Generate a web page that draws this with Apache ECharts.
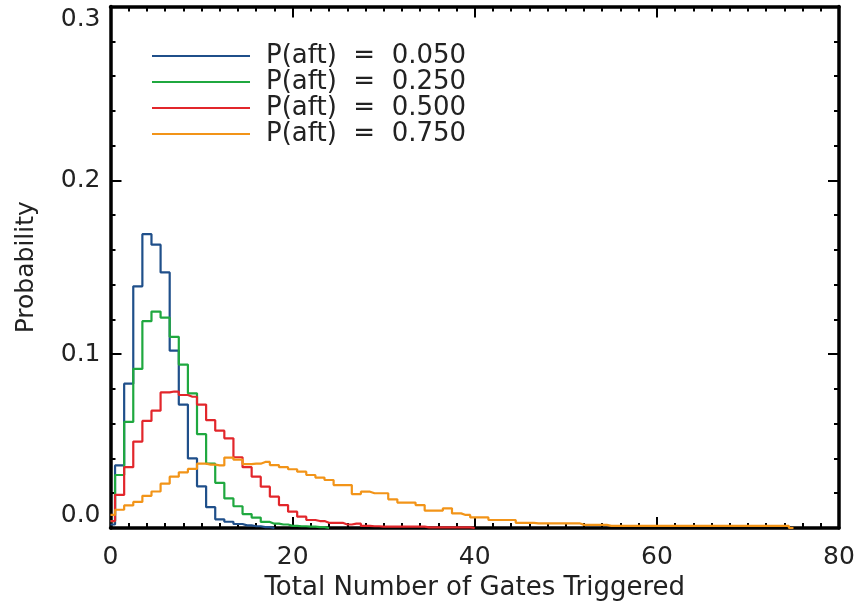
<!DOCTYPE html>
<html>
<head>
<meta charset="utf-8">
<script src="https://cdn.jsdelivr.net/npm/echarts@6/dist/echarts.min.js"></script>
<style>
  html, body { margin: 0; padding: 0; background: #fff; }
  #chart { width: 858px; height: 612px; }
</style>
</head>
<body>
<div id="chart"></div>
<script>
// Histogram probabilities per bin (bin n centred on n gates), one array per P(aft)
const seriesNames = ['P(aft)  =  0.050', 'P(aft)  =  0.250', 'P(aft)  =  0.500', 'P(aft)  =  0.750'];
const seriesColors = ['#1f4f8a', '#1fa83f', '#e2262b', '#f29418'];

const probAft050 = [0.002, 0.036, 0.083, 0.139, 0.169, 0.163, 0.147, 0.102, 0.071, 0.040,
  0.024, 0.012, 0.005, 0.0036, 0.0023, 0.0015, 0.001, 0.0005, 0];

const probAft250 = [0.004, 0.0305, 0.061, 0.0915, 0.119, 0.1245, 0.121, 0.110, 0.094, 0.0775,
  0.054, 0.037, 0.026, 0.017, 0.0125, 0.008, 0.006, 0.0035, 0.0025, 0.002,
  0.0012, 0.001, 0.0008, 0.0005, 0];

const probAft500 = [0.004, 0.019, 0.035, 0.0497, 0.0616, 0.0675, 0.078, 0.0785, 0.0765, 0.0755,
  0.071, 0.062, 0.056, 0.0516, 0.0407, 0.035, 0.0295, 0.0238, 0.018, 0.0132,
  0.0094, 0.0065, 0.0046, 0.004, 0.003, 0.003, 0.002, 0.0025, 0.0012, 0.001,
  0.0008, 0.0008, 0.0008, 0.0008, 0.0008, 0.0004, 0.0004, 0.0004, 0.0004, 0.0004, 0];

const probAft750 = [0.0075, 0.0105, 0.013, 0.015, 0.0185, 0.021, 0.0255, 0.0295, 0.032, 0.034,
  0.037, 0.0365, 0.036, 0.0405, 0.0393, 0.0368, 0.037, 0.038, 0.0362, 0.035,
  0.0338, 0.0324, 0.0305, 0.029, 0.0276, 0.0247, 0.0247, 0.0195, 0.0209, 0.020,
  0.020, 0.0165, 0.0146, 0.0146, 0.0132, 0.010, 0.010, 0.0113, 0.0084, 0.0075,
  0.0061, 0.0061, 0.0046, 0.0046, 0.0046, 0.003, 0.003, 0.0027, 0.0027, 0.0027,
  0.0027, 0.0027, 0.0018, 0.0018, 0.0018, 0.0012, 0.0012, 0.0012, 0.0012, 0.0012,
  0.0012, 0.0012, 0.0012, 0.0012, 0.0012, 0.0012, 0.0012, 0.0012, 0.0012, 0.0012,
  0.0012, 0.0012, 0.0012, 0.0012, 0.0012, 0];

const allProbs = [probAft050, probAft250, probAft500, probAft750];

const xTitle = 'Total Number of Gates Triggered';
const yTitle = 'Probability';

const FONT = 'DejaVu Sans';
const INK = '#222';

function framedAxis(extra, minorSplits) {
  return Object.assign({
    type: 'value',
    axisLine: { show: true, onZero: false, lineStyle: { color: '#000', width: 3.5 } },
    axisTick: { show: true, inside: true, length: 11, lineStyle: { color: '#000', width: 2 } },
    minorTick: { show: true, splitNumber: minorSplits, length: 5, lineStyle: { color: '#000', width: 2 } },
    splitLine: { show: false },
    minorSplitLine: { show: false }
  }, extra);
}

const chart = echarts.init(document.getElementById('chart'), null, { renderer: 'canvas' });

chart.setOption({
  backgroundColor: '#fff',
  animation: false,
  textStyle: { fontFamily: FONT },
  grid: { left: 110.5, right: 19, top: 6.5, bottom: 84, containLabel: false },
  legend: {
    orient: 'vertical',
    left: 147,
    top: 38,
    icon: 'rect',
    itemWidth: 98,
    itemHeight: 2,
    itemGap: 0,
    textStyle: { fontFamily: FONT, fontSize: 26, color: INK, lineHeight: 26, padding: [0, 0, 0, 11] },
    data: seriesNames
  },
  xAxis: [
    framedAxis({
      min: 0, max: 80, interval: 20,
      position: 'bottom',
      name: xTitle, nameLocation: 'middle', nameGap: 41,
      nameTextStyle: { fontFamily: FONT, fontSize: 26, color: INK },
      axisLabel: { show: true, margin: 17, fontFamily: FONT, fontSize: 25, color: INK }
    }, 10),
    framedAxis({
      min: 0, max: 80, interval: 20,
      position: 'top',
      axisLabel: { show: false }
    }, 10)
  ],
  yAxis: [
    framedAxis({
      min: 0, max: 0.3, interval: 0.1,
      position: 'left',
      name: yTitle, nameLocation: 'middle', nameGap: 72, nameRotate: 90,
      nameTextStyle: { fontFamily: FONT, fontSize: 25, color: INK },
      axisLabel: {
        show: true, margin: 10, fontFamily: FONT, fontSize: 25, color: INK,
        formatter: v => v.toFixed(1),
        verticalAlignMinLabel: 'bottom',
        verticalAlignMaxLabel: 'top'
      }
    }, 5),
    framedAxis({
      min: 0, max: 0.3, interval: 0.1,
      position: 'right',
      axisLabel: { show: false }
    }, 5)
  ],
  series: allProbs.map((probs, k) => ({
    name: seriesNames[k],
    type: 'line',
    step: 'middle',
    xAxisIndex: 0,
    yAxisIndex: 0,
    symbol: 'none',
    clip: false,
    z: 3,
    color: seriesColors[k],
    lineStyle: { width: 2.2, color: seriesColors[k] },
    data: probs.map((p, n) => [n, p])
  }))
});
</script>
</body>
</html>
